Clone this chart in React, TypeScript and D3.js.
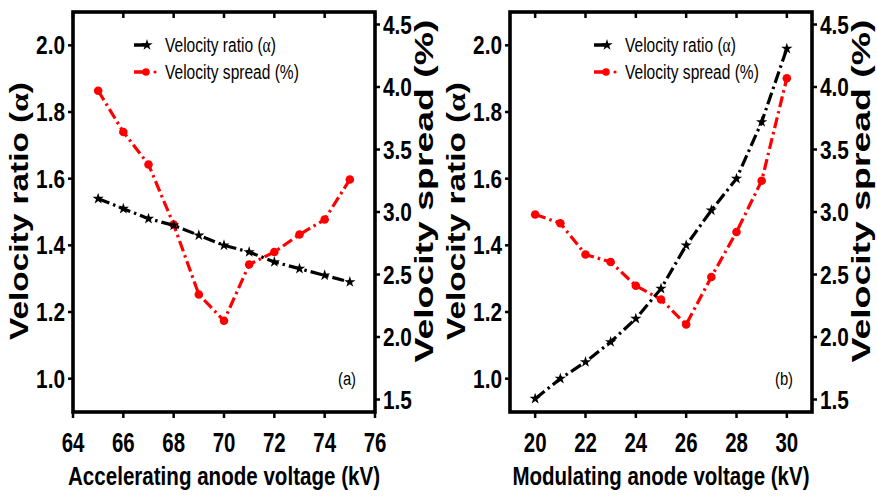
import React from 'react'
import * as d3 from 'd3'

// panel (a): accelerating anode voltage sweep
const accelVoltage = [65, 66, 67, 68, 69, 70, 71, 72, 73, 74, 75]
const accelRatio = [1.54, 1.51, 1.48, 1.46, 1.43, 1.40, 1.38, 1.35, 1.33, 1.31, 1.29]
const accelSpread = [3.97, 3.64, 3.38, 2.90, 2.34, 2.13, 2.58, 2.68, 2.82, 2.94, 3.26]

// panel (b): modulating anode voltage sweep
const modVoltage = [20, 21, 22, 23, 24, 25, 26, 27, 28, 29, 30]
const modRatio = [0.94, 1.00, 1.05, 1.11, 1.18, 1.27, 1.40, 1.505, 1.60, 1.77, 1.99]
const modSpread = [2.98, 2.91, 2.66, 2.60, 2.41, 2.30, 2.10, 2.48, 2.84, 3.25, 4.07]

const accelTicks = [64, 66, 68, 70, 72, 74, 76]
const modTicks = [20, 22, 24, 26, 28, 30]
const ratioTicks = [1.0, 1.2, 1.4, 1.6, 1.8, 2.0]
const spreadTicks = [1.5, 2.0, 2.5, 3.0, 3.5, 4.0, 4.5]

const sans = "'Liberation Sans', Arial, sans-serif"
const serif = "'Liberation Serif', serif"

// no narrow face installed, so squeeze horizontally
function Narrow(props: { x: number, y: number, sx?: number, anchor?: string, size: number, bold?: boolean, children: React.ReactNode }) {
  const { x, y, sx = 0.78, anchor = 'start', size, bold, children } = props
  return (
    <g transform={`translate(${x},${y}) scale(${sx},1)`}>
      <text textAnchor={anchor} fontFamily={sans} fontWeight={bold ? 'bold' : 'normal'} fontSize={size}>{children}</text>
    </g>
  )
}

type PanelProps = {
  left: number
  xDomain: [number, number]
  xTicks: number[]
  xs: number[]
  ratio: number[]
  spread: number[]
  xTitle: string
  xTitleLen: number
  tag: string
  legendX: number
}

function Panel(props: PanelProps) {
  const { left, xDomain, xTicks, xs, ratio, spread, xTitle, xTitleLen, tag, legendX } = props
  const top = 12, w = 302, h = 400
  const x = d3.scaleLinear().domain(xDomain).range([left, left + w])
  const yL = d3.scaleLinear().domain([0.9, 2.1]).range([top + h, top])
  const yR = d3.scaleLinear().domain([1.4, 4.6]).range([top + h, top])

  const ratioPts = xs.map((v, i) => [x(v), yL(ratio[i])] as [number, number])
  const spreadPts = xs.map((v, i) => [x(v), yR(spread[i])] as [number, number])
  const line = d3.line()
  const star = d3.symbol().type(d3.symbolStar).size(40)()
  const right = left + w, bottom = top + h

  return (
    <g>
      {/* data lines */}
      <path d={line(spreadPts) || ''} fill="none" stroke="#f00" strokeWidth={3.2} strokeDasharray="11,4,2.5,4" />
      {spreadPts.map((p, i) => (
        <circle key={'s' + i} cx={p[0]} cy={p[1]} r={4.3} fill="#f00" />
      ))}
      <path d={line(ratioPts) || ''} fill="none" stroke="#000" strokeWidth={3.2} strokeDasharray="12,4,2.5,4" />
      {ratioPts.map((p, i) => (
        <path key={'r' + i} d={star || ''} transform={`translate(${p[0]},${p[1]})`} fill="#000" />
      ))}

      {/* frame */}
      <rect x={left} y={top} width={w} height={h} fill="none" stroke="#000" strokeWidth={3.6} />

      {/* bottom + top ticks */}
      {xTicks.map(t => (
        <g key={'x' + t}>
          <line x1={x(t)} x2={x(t)} y1={bottom} y2={bottom + 6} stroke="#000" strokeWidth={2.5} />
          <line x1={x(t)} x2={x(t)} y1={top} y2={top + 6} stroke="#000" strokeWidth={2.5} />
          <Narrow x={x(t)} y={bottom + 40} anchor="middle" size={28} sx={0.73} bold>{t}</Narrow>
        </g>
      ))}

      {/* left ticks */}
      {ratioTicks.map(t => (
        <g key={'l' + t}>
          <line x1={left - 5} x2={left} y1={yL(t)} y2={yL(t)} stroke="#000" strokeWidth={2.5} />
          <Narrow x={left - 8} y={yL(t) + 9} anchor="end" size={26} sx={0.8} bold>{t.toFixed(1)}</Narrow>
        </g>
      ))}

      {/* right ticks */}
      {spreadTicks.map(t => (
        <g key={'rt' + t}>
          <line x1={right} x2={right + 5} y1={yR(t)} y2={yR(t)} stroke="#000" strokeWidth={2.5} />
          <Narrow x={right + 8} y={yR(t) + 9} anchor="start" size={26} sx={0.8} bold>{t.toFixed(1)}</Narrow>
        </g>
      ))}

      {/* axis titles */}
      <text x={left + w / 2} y={485} textAnchor="middle" fontFamily={sans} fontWeight="bold" fontSize={25}
        textLength={xTitleLen} lengthAdjust="spacingAndGlyphs">{xTitle}</text>
      <text transform={`translate(${left - 45},211) rotate(-90)`} textAnchor="middle" fontFamily={sans} fontWeight="bold" fontSize={25}
        textLength={258} lengthAdjust="spacingAndGlyphs">
        Velocity ratio (<tspan fontFamily={serif}>α</tspan>)
      </text>
      <text transform={`translate(${right + 58},191) rotate(-90)`} textAnchor="middle" fontFamily={sans} fontWeight="bold" fontSize={25}
        textLength={343} lengthAdjust="spacingAndGlyphs">
        Velocity spread (%)
      </text>

      {/* legend */}
      <line x1={legendX} x2={legendX + 14} y1={45} y2={45} stroke="#000" strokeWidth={3.5} />
      <path d={star || ''} transform={`translate(${legendX + 13},45)`} fill="#000" />
      <Narrow x={legendX + 31} y={52} size={21} sx={0.74}>Velocity ratio (<tspan fontFamily={serif}>α</tspan>)</Narrow>
      <line x1={legendX} x2={legendX + 12} y1={72} y2={72} stroke="#f00" strokeWidth={3.5} />
      <circle cx={legendX + 12} cy={72} r={3.8} fill="#f00" />
      <circle cx={legendX + 21} cy={72} r={1.6} fill="#f00" />
      <Narrow x={legendX + 31} y={79} size={21} sx={0.74}>Velocity spread (%)</Narrow>

      {/* panel tag */}
      <Narrow x={right - 28} y={385} anchor="middle" size={19} sx={0.78}>{tag}</Narrow>
    </g>
  )
}

export default function App() {
  return (
    <svg width={877} height={500} style={{ position: 'absolute', left: 0, top: 0, background: '#fff' }}>
      <Panel left={73} xDomain={[64, 76]} xTicks={accelTicks} xs={accelVoltage} ratio={accelRatio} spread={accelSpread}
        xTitle="Accelerating anode voltage (kV)" xTitleLen={312} tag="(a)" legendX={134} />
      <Panel left={510} xDomain={[19, 31]} xTicks={modTicks} xs={modVoltage} ratio={modRatio} spread={modSpread}
        xTitle="Modulating anode voltage (kV)" xTitleLen={297} tag="(b)" legendX={594} />
    </svg>
  )
}
